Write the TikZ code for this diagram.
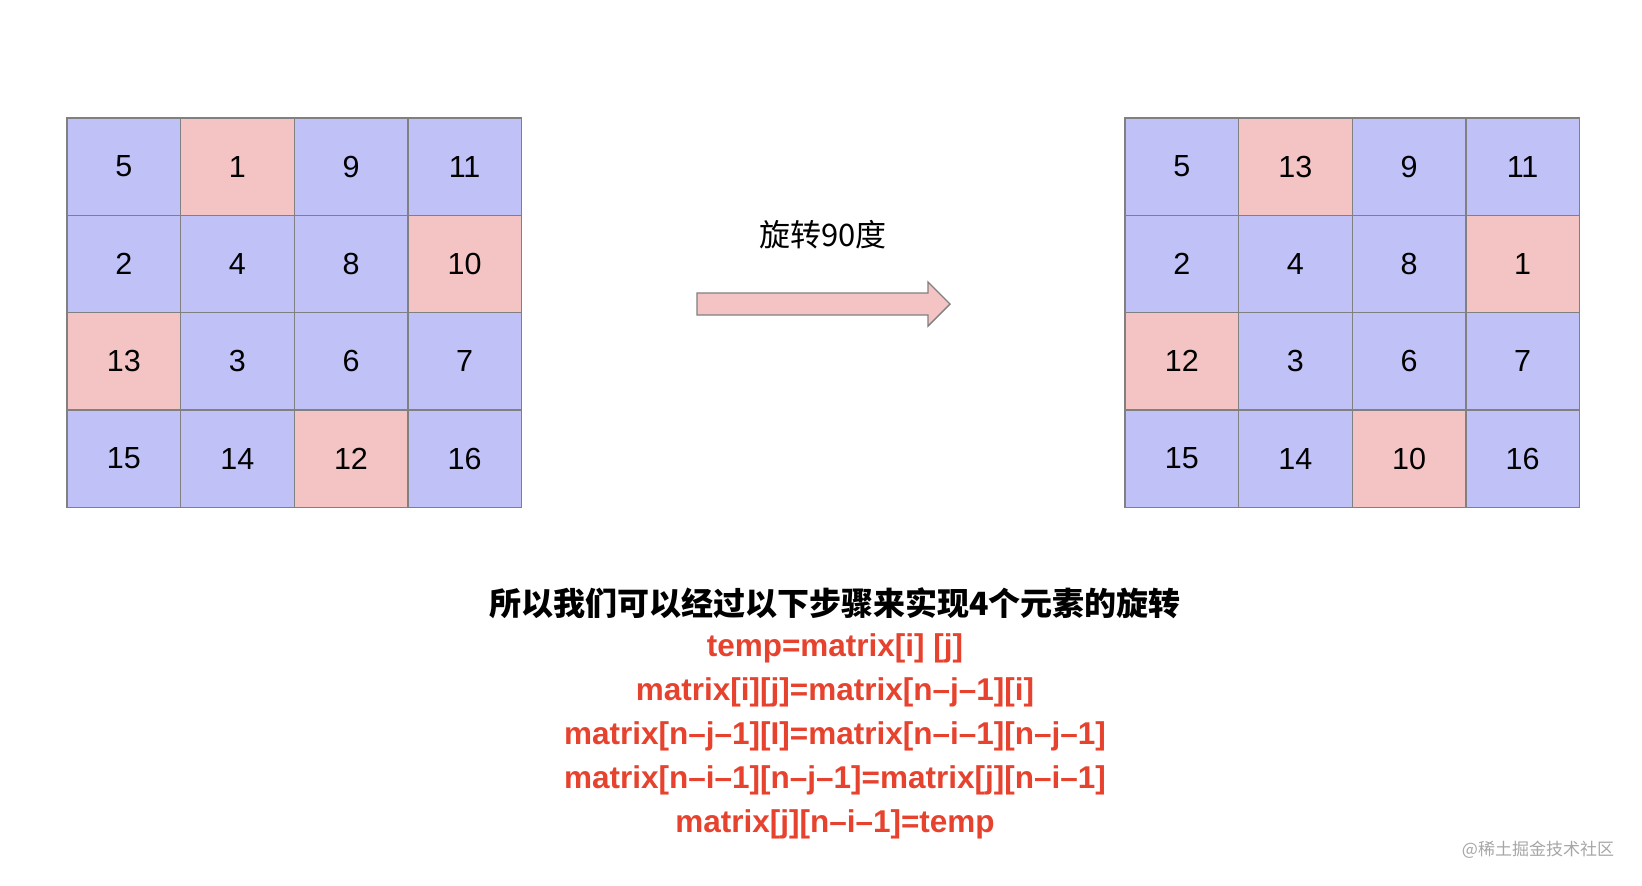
\documentclass[tikz,border=0pt]{standalone}
\usepackage{fontspec}
\setmainfont{Liberation Sans}
\newfontfamily\cjk{Noto Sans CJK SC}
\definecolor{cellblue}{RGB}{191,193,247}
\definecolor{cellpink}{RGB}{244,196,196}
\definecolor{gridgray}{RGB}{128,128,128}
\definecolor{codered}{RGB}{230,66,46}
\newcommand{\cellfont}{\fontsize{30.5}{30.5}\selectfont}
\newcommand{\codefont}{\fontsize{31.5}{31.5}\selectfont\bfseries}

\begin{document}
\begin{tikzpicture}[x=1pt, y=-1pt,
    cell/.style={draw=gridgray, line width=1.4pt, minimum width=113.6pt,
                 minimum height=97.3pt, inner sep=0pt, font=\cellfont},
    codeline/.style={text=codered, inner sep=0pt, font=\codefont}]
  \useasboundingbox (0,0) rectangle (1642,886);

  % left grid
  \foreach \v/\c [count=\k from 0] in {5/cellblue,1/cellpink,9/cellblue,11/cellblue,
      2/cellblue,4/cellblue,8/cellblue,10/cellpink,
      13/cellpink,3/cellblue,6/cellblue,7/cellblue,
      15/cellblue,14/cellblue,12/cellpink,16/cellblue} {
    \pgfmathtruncatemacro{\r}{\k/4}
    \pgfmathtruncatemacro{\cc}{mod(\k,4)}
    \node[cell, fill=\c] (L-\r-\cc) at (67+113.6*\cc+56.8, 118+97.3*\r+48.65) {\v};
  }

  % right grid
  \foreach \v/\c [count=\k from 0] in {5/cellblue,13/cellpink,9/cellblue,11/cellblue,
      2/cellblue,4/cellblue,8/cellblue,1/cellpink,
      12/cellpink,3/cellblue,6/cellblue,7/cellblue,
      15/cellblue,14/cellblue,10/cellpink,16/cellblue} {
    \pgfmathtruncatemacro{\r}{\k/4}
    \pgfmathtruncatemacro{\cc}{mod(\k,4)}
    \node[cell, fill=\c] (R-\r-\cc) at (1125+113.6*\cc+56.8, 118+97.3*\r+48.65) {\v};
  }

  \node[font=\fontsize{31}{31}\selectfont\cjk] (rotlabel) at (823,235) {旋转90度};
  \draw[draw=gridgray, fill=cellpink, line width=1.4pt]
    (697,293) -- (928,293) -- (928,282) -- (950,304) -- (928,326)
    -- (928,315) -- (697,315) -- cycle;

  \node[font=\fontsize{32}{32}\selectfont\cjk\bfseries] (title) at (835,603)
    {所以我们可以经过以下步骤来实现4个元素的旋转};
  \node[codeline] (c1) at (835,648) {temp=matrix[i] [j]};
  \node[codeline] (c2) at (835,692) {matrix[i][j]=matrix[n–j–1][i]};
  \node[codeline] (c3) at (835,736) {matrix[n–j–1][I]=matrix[n–i–1][n–j–1]};
  \node[codeline] (c4) at (835,780) {matrix[n–i–1][n–j–1]=matrix[j][n–i–1]};
  \node[codeline] (c5) at (835,824) {matrix[j][n–i–1]=temp};

  \node[font=\fontsize{17}{17}\selectfont\cjk, text=gray!70] (mark) at (1538,850)
    {@稀土掘金技术社区};
\end{tikzpicture}
\end{document}
